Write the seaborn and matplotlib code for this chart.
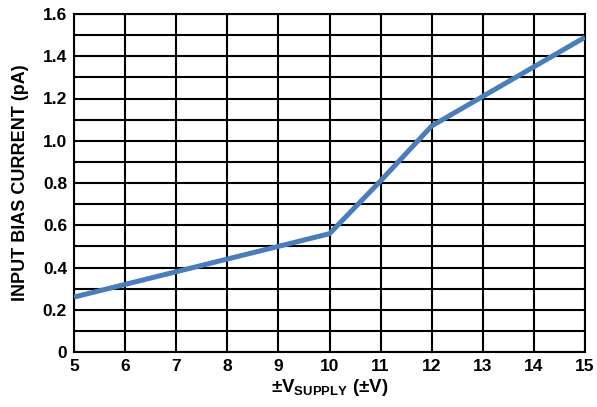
import numpy as np
import matplotlib
matplotlib.use('Agg')
import matplotlib.pyplot as plt
import seaborn as sns
import pandas as pd

# supply voltage (+/-V) and input bias current (pA)
vsupply = [5, 6, 7, 8, 9, 10, 11, 12, 13, 14, 15]
ibias = [0.26, 0.32, 0.38, 0.44, 0.50, 0.56, 0.81, 1.07, 1.21, 1.35, 1.49]
xticks = [5, 6, 7, 8, 9, 10, 11, 12, 13, 14, 15]
yticks = [0, 0.2, 0.4, 0.6, 0.8, 1.0, 1.2, 1.4, 1.6]
ytick_labels = ['0', '0.2', '0.4', '0.6', '0.8', '1.0', '1.2', '1.4', '1.6']

sns.set_style('white')
plt.rcParams['font.family'] = ['Liberation Sans', 'DejaVu Sans']
plt.rcParams['font.weight'] = 'bold'
plt.rcParams['text.color'] = 'black'
plt.rcParams['axes.labelcolor'] = 'black'
plt.rcParams['xtick.color'] = 'black'
plt.rcParams['ytick.color'] = 'black'
plt.rcParams['mathtext.fontset'] = 'custom'
plt.rcParams['mathtext.rm'] = 'Liberation Sans:bold'
plt.rcParams['mathtext.bf'] = 'Liberation Sans:bold'
plt.rcParams['mathtext.default'] = 'bf'

df = pd.DataFrame({'V': vsupply, 'I': ibias})

fig = plt.figure(figsize=(5.97, 4.07), dpi=100)
ax = fig.add_axes([74/597, 1-352/407, (585-74)/597, (352-14)/407])

sns.lineplot(data=df, x='V', y='I', ax=ax, color='#4a7ebb', linewidth=3.6,
             solid_capstyle='butt', zorder=3)

ax.set_xlim(5, 15)
ax.set_ylim(0, 1.6)
ax.set_xticks(xticks)
ax.set_yticks(yticks)
ax.set_yticklabels(ytick_labels)
ax.set_yticks(np.arange(0.1, 1.6, 0.2), minor=True)
ax.grid(which='both', color='black', linewidth=1.5)
ax.tick_params(which='both', length=0, labelsize=12.5)
ax.tick_params(axis='x', pad=5)
ax.tick_params(axis='y', pad=5)
for s in ax.spines.values():
    s.set_color('black')
    s.set_linewidth(1.5)

ax.set_xlabel('±V$_{SUPPLY}$ (±V)', fontsize=13.5, fontweight='bold', labelpad=2)
ax.set_ylabel('INPUT BIAS CURRENT (pA)', fontsize=13, fontweight='bold', labelpad=10)

fig.savefig('out.png', dpi=100)
